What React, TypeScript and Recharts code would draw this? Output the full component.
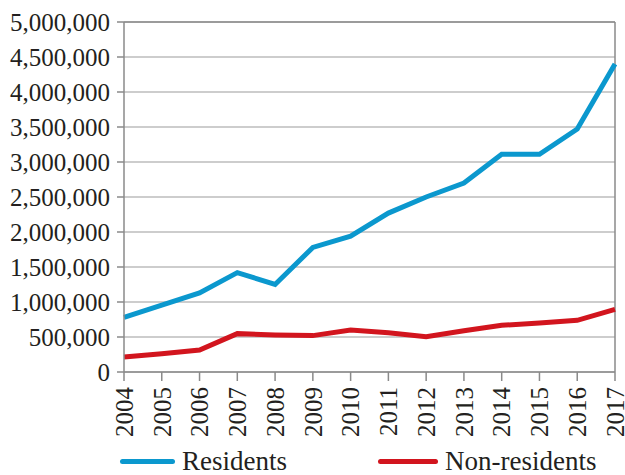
import { CartesianGrid, Legend, Line, LineChart, ReferenceLine, XAxis, YAxis } from "recharts";

const years = ["2004", "2005", "2006", "2007", "2008", "2009", "2010", "2011", "2012", "2013", "2014", "2015", "2016", "2017"];
const residents = [780000, 957000, 1130000, 1420000, 1250000, 1780000, 1940000, 2270000, 2500000, 2700000, 3110000, 3110000, 3470000, 4400000];
const nonResidents = [214000, 260000, 314000, 548000, 530000, 520000, 600000, 560000, 505000, 590000, 667000, 700000, 738000, 895000];
const yTicks = [0, 500000, 1000000, 1500000, 2000000, 2500000, 3000000, 3500000, 4000000, 4500000, 5000000];

const data = years.map((year, i) => ({ year, residents: residents[i], nonResidents: nonResidents[i] }));

const FONT = "'Liberation Serif', 'Times New Roman', serif";
const BLUE = "#0b98ce";
const RED = "#d2151e";
const AXIS = "#8a8a8a";

function YearTick(props: any) {
  const { x, y, payload } = props;
  return (
    <text
      x={x}
      y={y + 4}
      transform={`rotate(-90 ${x} ${y + 4})`}
      textAnchor="end"
      dy="0.35em"
      fill="#231f20"
      fontSize={25}
      fontFamily={FONT}
    >
      {payload.value}
    </text>
  );
}

function ChartLegend() {
  const items = [
    { label: "Residents", color: BLUE, x: 120, w: 55 },
    { label: "Non-residents", color: RED, x: 378, w: 60 },
  ];
  return (
    <div style={{ position: "relative", height: 33, width: 625 }}>
      {items.map((it) => (
        <div key={it.label} style={{ position: "absolute", left: it.x, top: 4, display: "flex", alignItems: "center" }}>
          <div style={{ width: it.w, height: 5, borderRadius: 3, background: it.color, marginRight: 7 }} />
          <span style={{ fontFamily: FONT, fontSize: 27, color: "#231f20", lineHeight: "30px" }}>{it.label}</span>
        </div>
      ))}
    </div>
  );
}

export default function App() {
  return (
    <div style={{ position: "absolute", left: 0, top: 0, width: 625, height: 475, background: "#fff", overflow: "hidden" }}>
      <LineChart width={625} height={475} data={data} margin={{ top: 22, right: 10, bottom: 0, left: 0 }}>
        <CartesianGrid vertical={false} stroke="#bcbcbc" strokeWidth={1.5} />
        <ReferenceLine y={5000000} stroke={AXIS} strokeWidth={1.5} />
        <ReferenceLine x="2017" stroke={AXIS} strokeWidth={1.5} />
        <XAxis
          dataKey="year"
          height={70}
          interval={0}
          tickSize={9}
          stroke={AXIS}
          strokeWidth={1.5}
          tickLine={{ stroke: AXIS }}
          tick={<YearTick />}
        />
        <YAxis
          width={124}
          domain={[0, 5000000]}
          ticks={yTicks}
          interval={0}
          tickSize={7}
          tickMargin={7}
          stroke={AXIS}
          strokeWidth={1.5}
          tickFormatter={(v: number) => v.toLocaleString("en-US")}
          tick={{ fill: "#231f20", fontSize: 25, fontFamily: FONT }}
        />
        <Legend verticalAlign="bottom" height={33} content={() => <ChartLegend />} />
        <Line type="linear" dataKey="residents" name="Residents" stroke={BLUE} strokeWidth={5} dot={false} isAnimationActive={false} />
        <Line type="linear" dataKey="nonResidents" name="Non-residents" stroke={RED} strokeWidth={5} dot={false} isAnimationActive={false} />
      </LineChart>
    </div>
  );
}
